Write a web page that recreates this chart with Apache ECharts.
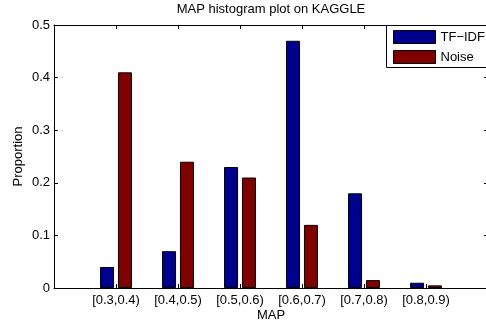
<!DOCTYPE html>
<html>
<head>
<meta charset="utf-8">
<script src="https://cdn.jsdelivr.net/npm/echarts@6/dist/echarts.min.js"></script>
<style>
  html, body { margin: 0; padding: 0; background: #fff; }
  #chart { width: 486px; height: 327px; }
</style>
</head>
<body>
<div id="chart"></div>
<script>
// MAP bins (x-axis categories)
const categories = ['[0.3,0.4)', '[0.4,0.5)', '[0.5,0.6)', '[0.6,0.7)', '[0.7,0.8)', '[0.8,0.9)'];
// Proportion of queries per MAP bin
const tfidfValues = [0.04, 0.07, 0.23, 0.47, 0.18, 0.01];
const noiseValues = [0.41, 0.24, 0.21, 0.12, 0.015, 0.005];
const seriesNames = ['TF\u2212IDF', 'Noise'];
const yTicks = [0, 0.1, 0.2, 0.3, 0.4, 0.5];

const FONT = '"Liberation Sans", Arial, Helvetica, sans-serif';
const chart = echarts.init(document.getElementById('chart'), null, { renderer: 'canvas' });

// bars sit at integer positions 1..N on a 0..N+1 axis
const toPoints = vals => vals.map((v, i) => [i + 1, v]);

const axisLine = { show: true, onZero: false, lineStyle: { color: '#000', width: 1 } };
const tick = { show: true, inside: true, length: 4, lineStyle: { color: '#000' } };

const option = {
  backgroundColor: '#fff',
  animation: false,
  textStyle: { fontFamily: FONT },
  title: {
    text: 'MAP histogram plot on KAGGLE',
    left: 271,
    top: 3,
    padding: 0,
    textAlign: 'center',
    textStyle: { fontFamily: FONT, fontSize: 13, fontWeight: 'normal', color: '#000' }
  },
  // legend frame runs past the right edge of the canvas
  graphic: [{
    type: 'rect',
    z: 3,
    shape: { x: 386.5, y: 25.5, width: 140, height: 42 },
    style: { fill: '#fff', stroke: '#000', lineWidth: 1 }
  }],
  legend: {
    orient: 'vertical',
    left: 386,
    top: 25,
    z: 4,
    padding: [5, 5, 5, 7],
    itemWidth: 42,
    itemHeight: 13,
    itemGap: 6,
    icon: 'rect',
    itemStyle: { borderColor: '#000', borderWidth: 1 },
    textStyle: { fontFamily: FONT, fontSize: 13, color: '#000', lineHeight: 13 },
    data: seriesNames
  },
  grid: { left: 54, right: -2, top: 25, bottom: 39, containLabel: false, outerBoundsMode: 'none' },
  xAxis: [
    {
      type: 'value', position: 'bottom',
      min: 0, max: categories.length + 1, interval: 1,
      axisLine, axisTick: tick, splitLine: { show: false },
      axisLabel: {
        fontFamily: FONT, fontSize: 13, color: '#000', margin: 6,
        formatter: v => categories[v - 1] || ''
      },
      name: 'MAP', nameLocation: 'middle', nameGap: 21, nameMoveOverlap: false,
      nameTextStyle: { fontFamily: FONT, fontSize: 13, color: '#000' }
    },
    {
      type: 'value', position: 'top',
      min: 0, max: categories.length + 1, interval: 1,
      axisLine, axisTick: tick, splitLine: { show: false },
      axisLabel: { show: false }
    }
  ],
  yAxis: [
    {
      type: 'value', position: 'left',
      min: yTicks[0], max: yTicks[yTicks.length - 1], interval: 0.1,
      axisLine, axisTick: tick, splitLine: { show: false },
      axisLabel: {
        fontFamily: FONT, fontSize: 13, color: '#000', margin: 4,
        formatter: v => (v === 0 ? '0' : v.toFixed(1))
      },
      name: 'Proportion', nameLocation: 'middle', nameGap: 29, nameMoveOverlap: false,
      nameTextStyle: { fontFamily: FONT, fontSize: 13, color: '#000' }
    },
    {
      type: 'value', position: 'right',
      min: yTicks[0], max: yTicks[yTicks.length - 1], interval: 0.1,
      axisLine, axisTick: tick, splitLine: { show: false },
      axisLabel: { show: false }
    }
  ],
  series: [
    {
      name: seriesNames[0], type: 'bar', xAxisIndex: 0, yAxisIndex: 0,
      barWidth: 14, barGap: '28%',
      itemStyle: { color: '#00008F', borderColor: '#000', borderWidth: 1 },
      data: toPoints(tfidfValues)
    },
    {
      name: seriesNames[1], type: 'bar', xAxisIndex: 0, yAxisIndex: 0,
      barWidth: 14, barGap: '28%',
      itemStyle: { color: '#800000', borderColor: '#000', borderWidth: 1 },
      data: toPoints(noiseValues)
    }
  ]
};

chart.setOption(option);
</script>
</body>
</html>
